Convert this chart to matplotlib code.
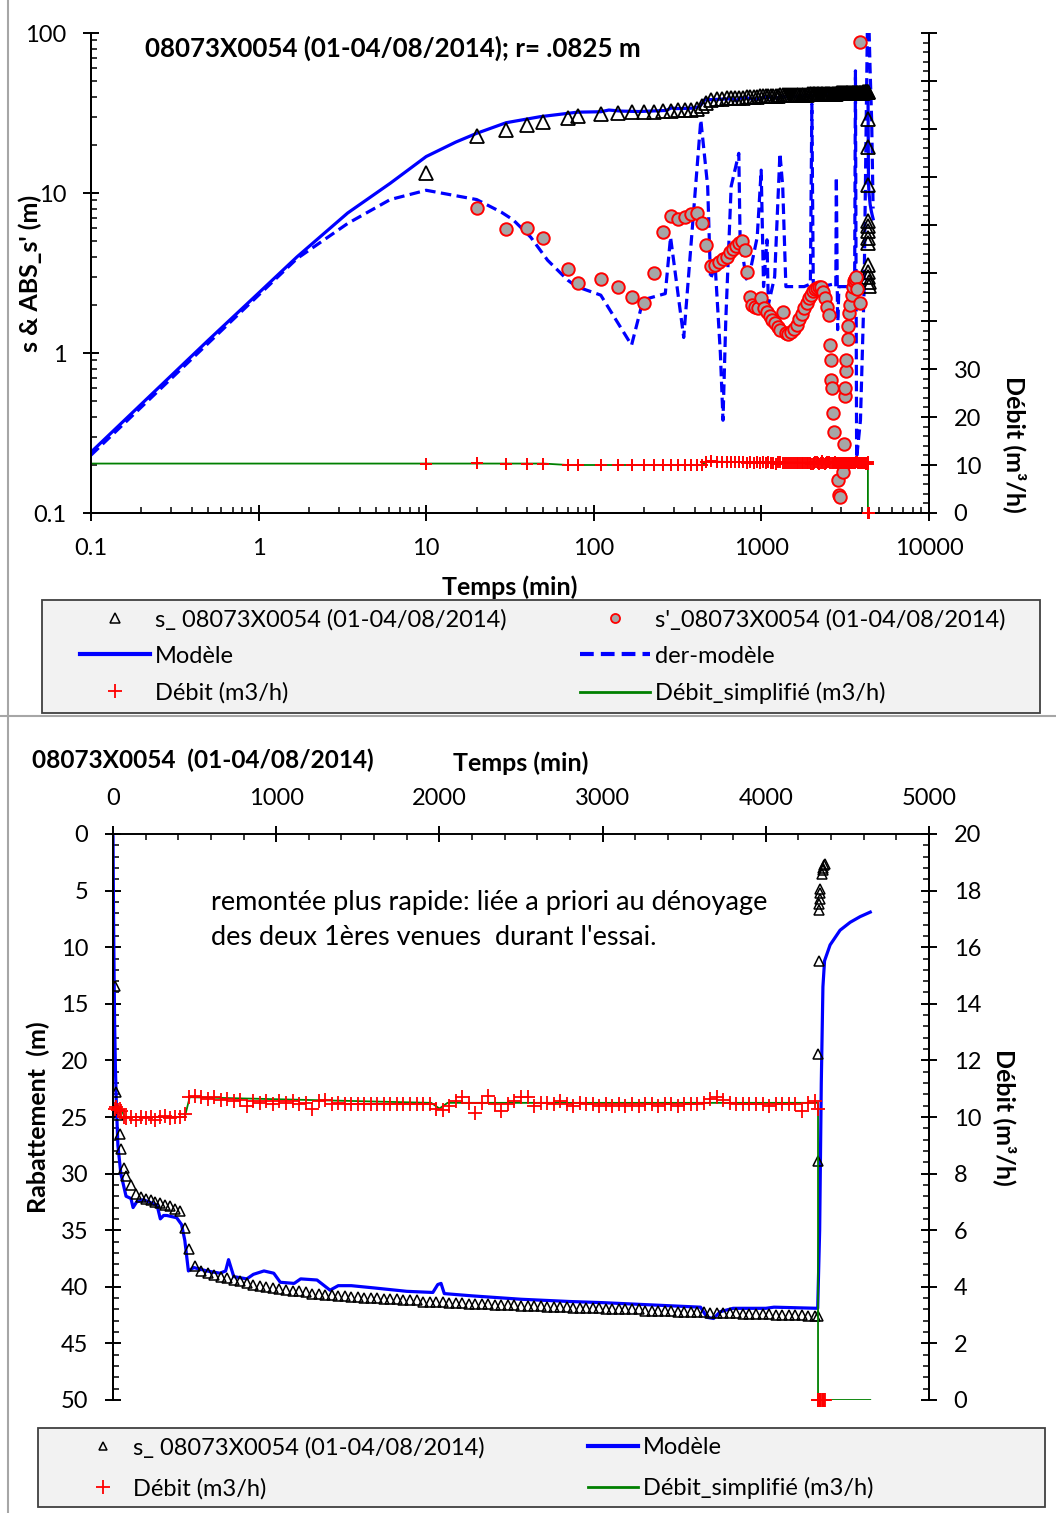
import matplotlib
matplotlib.use("Agg")
import matplotlib.pyplot as plt
from matplotlib.lines import Line2D
from matplotlib.patches import Rectangle
from matplotlib.ticker import (FixedLocator, FixedFormatter, MultipleLocator,
                               LogLocator, NullFormatter, FuncFormatter)

# ---------------- data ----------------
# pumping period: observed drawdown s (m) and flow Q (m3/h)
t_pump = [10, 20, 30, 40, 50, 70, 80, 110, 140, 170, 200, 230, 260, 290, 320, 350,
          380, 410, 440, 465,
          500, 540, 580, 620, 660, 700, 740, 780, 820, 860, 900, 940, 980, 1020,
          1060, 1100, 1140, 1180, 1220, 1260, 1300, 1340, 1380, 1420, 1460, 1500,
          1540, 1580, 1620, 1660, 1700, 1740, 1780, 1820, 1860, 1900, 1940, 1980,
          2020, 2060, 2100, 2140, 2180, 2220, 2260, 2300, 2340, 2380, 2420, 2460,
          2500, 2540, 2580, 2620, 2660, 2700, 2740, 2780, 2820, 2860, 2900, 2940,
          2980, 3020, 3060, 3100, 3140, 3180, 3220, 3260, 3300, 3340, 3380, 3420,
          3460, 3500, 3540, 3580, 3620, 3660, 3700, 3740, 3780, 3820, 3860, 3900,
          3940, 3980, 4020, 4060, 4100, 4140, 4180, 4220, 4260, 4300, 4320]
s_pump = [13.4, 22.8, 24.8, 26.5, 27.8, 29.5, 30.2, 31.0, 31.8, 32.1, 32.2, 32.3,
          32.5, 32.6, 32.8, 32.9, 33.1, 33.3, 34.8, 36.7,
          38.2, 38.6, 38.8, 39.0, 39.1, 39.2, 39.4, 39.5, 39.7, 39.8, 39.9, 40.0,
          40.1, 40.2, 40.3, 40.4, 40.4, 40.5, 40.6, 40.6, 40.7, 40.7, 40.8, 40.8,
          40.9, 40.9, 41.0, 41.0, 41.0, 41.1, 41.1, 41.1, 41.2, 41.2, 41.2, 41.3,
          41.3, 41.3, 41.3, 41.4, 41.4, 41.4, 41.5, 41.5, 41.5, 41.5, 41.6, 41.6,
          41.6, 41.6, 41.7, 41.7, 41.7, 41.7, 41.8, 41.8, 41.8, 41.8, 41.9, 41.9,
          41.9, 41.9, 41.9, 42.0, 42.0, 42.0, 42.0, 42.0, 42.0, 42.1, 42.1, 42.1,
          42.1, 42.1, 42.2, 42.2, 42.2, 42.2, 42.2, 42.3, 42.3, 42.3, 42.3, 42.3,
          42.4, 42.4, 42.4, 42.4, 42.4, 42.5, 42.5, 42.5, 42.5, 42.5, 42.6, 42.6,
          42.6]
q_pump = [10.3, 10.35, 10.25, 10.3, 10.2, 10.0, 9.95, 10.0, 9.9, 10.0, 9.95, 10.0,
          9.9, 10.0, 10.05, 9.95, 10.0, 10.0, 10.1, 10.7,
          10.75, 10.7, 10.65, 10.7, 10.6, 10.65, 10.55, 10.6, 10.4, 10.55, 10.5,
          10.55, 10.45, 10.55, 10.5, 10.55, 10.45, 10.5, 10.3, 10.55, 10.6, 10.45,
          10.5, 10.45, 10.45, 10.45, 10.45, 10.45, 10.45, 10.45, 10.45, 10.45,
          10.45, 10.45, 10.45, 10.45, 10.45, 10.3, 10.25, 10.4, 10.55, 10.7, 10.5,
          10.15, 10.5, 10.75, 10.45, 10.2, 10.45, 10.55, 10.7, 10.7, 10.4, 10.5,
          10.5, 10.45, 10.55, 10.45, 10.4, 10.5, 10.45, 10.45, 10.4, 10.45, 10.4,
          10.45, 10.4, 10.45, 10.4, 10.45, 10.45, 10.4, 10.45, 10.45, 10.4, 10.45,
          10.45, 10.45, 10.5, 10.65, 10.7, 10.6, 10.5, 10.45, 10.45, 10.45, 10.45,
          10.45, 10.4, 10.45, 10.45, 10.45, 10.45, 10.2, 10.5, 10.55, 10.3]

# recovery period
t_rec = [4321, 4322, 4324, 4327, 4329, 4331, 4333, 4335, 4343, 4348, 4353, 4358, 4363]
s_rec = [28.9, 19.4, 11.2, 6.7, 6.2, 5.75, 5.25, 4.9, 3.55, 3.2, 2.98, 2.78, 2.64]
q_rec = [0, 0, 0, 0, 0, 0, 0, 0, 0, 0, 0, 0, 0]

# observed derivative |s'|
t_deriv = [20, 30, 40, 50, 70, 80, 110, 140, 170, 200, 230, 260, 290, 320, 350, 380,
           410, 440, 465, 500, 530, 560, 590, 620, 650, 680, 710, 740, 770, 800,
           825, 850, 880, 920, 960, 1000, 1040, 1080, 1120, 1160, 1200, 1250, 1300,
           1350, 1400, 1450, 1500, 1560, 1620, 1680, 1740, 1800, 1860, 1920, 1980,
           2040, 2100, 2160, 2220, 2280, 2340, 2400, 2460, 2520, 2560, 2590, 2600,
           2640, 2670, 2700, 2850, 2890, 2950, 3080, 3090, 3150, 3160, 3200, 3210,
           3280, 3290, 3350, 3400, 3450, 3500, 3550, 3600, 3650, 3700, 3890, 3900]
s_deriv = [8.1, 5.96, 6.0, 5.2, 3.33, 2.75, 2.92, 2.6, 2.25, 2.05, 3.16, 5.7, 7.2,
           6.9, 7.1, 7.4, 7.5, 6.5, 4.7, 3.5, 3.55, 3.7, 3.85, 4.0, 4.25, 4.45, 4.65,
           4.85, 5.0, 4.4, 3.2, 2.25, 2.0, 1.95, 1.9, 2.2, 1.9, 1.8, 1.7, 1.6, 1.55,
           1.45, 1.4, 1.8, 1.33, 1.32, 1.36, 1.42, 1.5, 1.62, 1.75, 1.9, 2.05, 2.2,
           2.3, 2.45, 2.5, 2.55, 2.6, 2.58, 2.4, 2.2, 1.95, 1.73, 1.12, 0.91, 0.68,
           0.6, 0.42, 0.32, 0.16, 0.13, 0.125, 0.18, 0.27, 0.54, 0.6, 0.77, 0.91,
           1.22, 1.47, 1.79, 2.0, 2.3, 2.6, 2.8, 2.9, 3.0, 2.5, 88.0, 2.04]

# model drawdown
t_model = [0.1, 0.2, 0.5, 1, 1.7, 3.4, 6.1, 10, 15, 20, 30, 48, 80, 110, 123, 145,
           185, 270, 290, 310, 330, 390, 420, 440, 462, 495, 575, 655, 690, 708,
           740, 820, 860, 925, 985, 1025, 1110, 1150, 1250, 1330, 1380, 1460, 1600,
           1800, 1960, 1990, 2010, 2030, 2200, 2500, 2800, 3000, 3300, 3600, 3640,
           3680, 3720, 3800, 4000, 4050, 4318, 4330, 4340, 4350, 4360, 4394, 4455,
           4517, 4578, 4640]
s_model = [0.24, 0.48, 1.2, 2.37, 4.0, 7.5, 11.5, 16.9, 20.8, 23.6, 27.5, 30.0,
           32.0, 32.2, 33.0, 32.5, 32.3, 32.8, 34.0, 33.7, 33.7, 33.9, 34.5, 35.9,
           38.6, 38.3, 38.6, 38.8, 38.6, 37.6, 39.1, 39.3, 38.9, 38.6, 38.8, 39.6,
           39.7, 39.3, 39.4, 40.3, 39.9, 39.9, 40.1, 40.4, 40.5, 39.8, 39.7, 40.6,
           40.8, 41.1, 41.3, 41.4, 41.6, 41.8, 42.7, 42.8, 42.2, 41.9, 41.9, 41.8,
           41.9, 35.0, 22.0, 13.5, 11.2, 9.8, 8.5, 7.8, 7.3, 6.9]

# model derivative
t_dmodel = [0.1, 0.5, 1, 1.7, 3.4, 6.1, 10, 20, 28, 33, 42, 53, 70, 79, 110, 168,
            197, 267, 287, 344, 435, 478, 497, 530, 569, 590, 613, 660, 733, 746,
            812, 870, 944, 997, 1030, 1080, 1100, 1200, 1290, 1340, 1400, 1600, 1800,
            1960, 2000, 2040, 2300, 2700, 2780, 2800, 2850, 2900, 3300, 3600, 3640,
            3700, 3900, 4100, 4250, 4320, 4450, 4550, 4640]
s_dmodel = [0.23, 1.15, 2.3, 3.9, 6.45, 9.1, 10.4, 9.1, 7.6, 6.8, 5.3, 3.8, 2.85,
            2.6, 2.3, 1.12, 2.15, 2.35, 5.3, 1.25, 28.6, 11.0, 2.9, 3.5, 1.0, 0.38,
            1.6, 11.0, 17.7, 5.3, 2.9, 3.5, 5.3, 13.9, 2.6, 5.1, 2.0, 3.0, 17.7,
            11.0, 2.6, 2.6, 2.6, 2.7, 36.0, 2.6, 2.6, 2.7, 2.6, 12.6, 1.4, 2.6, 2.6,
            2.6, 58.0, 0.22, 0.38, 2.5, 50.0, 200.0, 60.0, 28.0, 8.0]

# simplified flow
t_qsimp = [0.1, 50, 70, 440, 470, 1950, 2000, 2050, 4320, 4320, 4640]
q_simp = [10.3, 10.3, 10.0, 10.0, 10.7, 10.5, 10.3, 10.5, 10.5, 0, 0]

x_log_ticks = [0.1, 1, 10, 100, 1000, 10000]
x_log_labels = ["0.1", "1", "10", "100", "1000", "10000"]
y_log_ticks = [0.1, 1, 10, 100]
y_log_labels = ["0.1", "1", "10", "100"]

title_top = "08073X0054 (01-04/08/2014); r= .0825 m"
title_bottom = "08073X0054  (01-04/08/2014)"
note = "remontée plus rapide: liée a priori au dénoyage\ndes deux 1ères venues  durant l'essai."
lbl_s = "s_ 08073X0054 (01-04/08/2014)"
lbl_d = "s'_08073X0054 (01-04/08/2014)"
lbl_m = "Modèle"
lbl_dm = "der-modèle"
lbl_q = "Débit (m3/h)"
lbl_qs = "Débit_simplifié (m3/h)"

t_obs = t_pump + t_rec
s_obs = s_pump + s_rec
q_obs = q_pump + q_rec

# ---------------- style ----------------
plt.rcParams['font.family'] = ['Lato', 'DejaVu Sans']
W, H = 1056, 1513
FS = 17
BLUE = '#0000ff'
GREEN = '#008000'
RED = '#ff0000'


def fx(px):
    return px / W


def fy(py):
    return 1 - py / H


fig = plt.figure(figsize=(W / 100, H / 100), dpi=100)
fig.patch.set_facecolor('white')

# panel separators
fig.add_artist(Line2D([fx(8), fx(8)], [0, 1], transform=fig.transFigure,
                      color='#a6a6a6', lw=1.5))
fig.add_artist(Line2D([0, 1], [fy(716), fy(716)], transform=fig.transFigure,
                      color='#a6a6a6', lw=1.5))


def style_major_minor(ax, axis):
    ax.tick_params(axis=axis, which='major', direction='inout', length=11.5,
                   width=1.4, labelsize=FS, pad=12, colors='black')
    ax.tick_params(axis=axis, which='minor', direction='in', length=4.5,
                   width=1.1)


# ================= TOP CHART (log-log) =================
ax1 = fig.add_axes([fx(91), fy(513), fx(929) - fx(91), fy(33) - fy(513)])
ax1.set_xscale('log')
ax1.set_yscale('log')
ax1.set_xlim(0.1, 10000)
ax1.set_ylim(0.1, 100)
ax1r = ax1.twinx()
ax1r.set_ylim(0, 100)

ax1.plot(t_model, s_model, color=BLUE, lw=2.3, zorder=2)
dl, = ax1.plot(t_dmodel, s_dmodel, color=BLUE, lw=2.3, zorder=2)
dl.set_dashes([3.3, 1.7])
ax1.plot(t_obs, s_obs, ls='none', marker='^', ms=9.5, mfc='none', mec='black',
         mew=1.3, zorder=3)
ax1.plot(t_deriv, s_deriv, ls='none', marker='o', ms=9, mfc='#a6a6a6', mec=RED,
         mew=1.4, zorder=3)
ax1r.plot(t_qsimp, q_simp, color=GREEN, lw=1.3, zorder=2)
ax1r.plot(t_obs, q_obs, ls='none', marker='+', ms=8.5, mec=RED, mew=1.4,
          zorder=3, clip_on=False)

for a in (ax1, ax1r):
    a.spines['top'].set_visible(False)
    for s in a.spines.values():
        s.set_linewidth(1.4)

ax1.xaxis.set_major_locator(FixedLocator(x_log_ticks))
ax1.xaxis.set_major_formatter(FixedFormatter(x_log_labels))
ax1.xaxis.set_minor_locator(LogLocator(base=10, subs=range(2, 10), numticks=100))
ax1.xaxis.set_minor_formatter(NullFormatter())
ax1.yaxis.set_major_locator(FixedLocator(y_log_ticks))
ax1.yaxis.set_major_formatter(FixedFormatter(y_log_labels))
ax1.yaxis.set_minor_locator(LogLocator(base=10, subs=range(2, 10), numticks=100))
ax1.yaxis.set_minor_formatter(NullFormatter())
ax1r.yaxis.set_major_locator(MultipleLocator(10))
ax1r.yaxis.set_major_formatter(FuncFormatter(lambda v, p: f"{int(round(v))}" if v <= 30.5 else ""))
ax1r.yaxis.set_minor_locator(MultipleLocator(2))
style_major_minor(ax1, 'x')
style_major_minor(ax1, 'y')
style_major_minor(ax1r, 'y')

ax1.set_xlabel("Temps (min)", fontsize=18, fontweight='bold')
ax1.xaxis.label.set_va('center')
ax1.xaxis.set_label_coords(0.5, -0.154)
ax1.set_ylabel("s & ABS_s' (m)", fontsize=18, fontweight='bold')
ax1.yaxis.label.set_va('center')
ax1.yaxis.set_label_coords(-0.0728, 0.5)
ax1r.set_ylabel("Débit (m³/h)", fontsize=18, fontweight='bold', rotation=270)
ax1r.yaxis.label.set_va('center')
ax1r.yaxis.set_label_coords(1.1026, 0.144)
ax1.text(0.0644, 0.969, title_top, transform=ax1.transAxes, fontsize=18.6,
         fontweight='bold', ha='left', va='center')

# top legend
fig.add_artist(Rectangle((fx(42), fy(713)), fx(1040) - fx(42), fy(600) - fy(713),
                         transform=fig.transFigure, fc='#f2f2f2', ec='#404040',
                         lw=1.3, zorder=0))
h_s = Line2D([], [], ls='none', marker='^', ms=7, mfc='none', mec='black', mew=1.1)
h_m = Line2D([], [], color=BLUE, lw=3)
h_q = Line2D([], [], ls='none', marker='+', ms=10, mec=RED, mew=1.3)
h_d = Line2D([], [], ls='none', marker='o', ms=6.5, mfc='#a6a6a6', mec=RED, mew=1.3)
h_dm = Line2D([], [], color=BLUE, lw=3, dashes=[3.3, 1.7])
h_qs = Line2D([], [], color=GREEN, lw=2)
leg_kw = dict(loc='upper left', frameon=False, borderpad=0, borderaxespad=0,
              fontsize=FS, handletextpad=0.22)
fig.legend([h_s, h_m, h_q], [lbl_s, lbl_m, lbl_q], bbox_to_anchor=(fx(80), fy(609)),
           handlelength=2.97, labelspacing=0.64, **leg_kw)
fig.legend([h_d, h_dm, h_qs], [lbl_d, lbl_dm, lbl_qs], bbox_to_anchor=(fx(580), fy(609)),
           handlelength=2.97, labelspacing=0.64, **leg_kw)

# ================= BOTTOM CHART (linear) =================
ax2 = fig.add_axes([fx(113), fy(1400), fx(929) - fx(113), fy(834) - fy(1400)])
ax2.set_xlim(0, 5000)
ax2.set_ylim(50, 0)
ax2r = ax2.twinx()
ax2r.set_ylim(0, 20)

ax2.plot(t_model, s_model, color=BLUE, lw=2.3, zorder=2)
ax2.plot(t_obs, s_obs, ls='none', marker='^', ms=6.5, mfc='none', mec='black',
         mew=1.1, zorder=3)
ax2r.plot(t_qsimp, q_simp, color=GREEN, lw=1.3, zorder=2)
ax2r.plot(t_obs, q_obs, ls='none', marker='+', ms=9.5, mec=RED, mew=1.3,
          zorder=3, clip_on=False)

for a in (ax2, ax2r):
    a.spines['bottom'].set_visible(False)
    for s in a.spines.values():
        s.set_linewidth(1.4)
ax2r.spines['top'].set_visible(False)

ax2.xaxis.tick_top()
ax2.xaxis.set_label_position('top')
ax2.xaxis.set_major_locator(MultipleLocator(1000))
ax2.xaxis.set_minor_locator(MultipleLocator(200))
ax2.yaxis.set_major_locator(MultipleLocator(5))
ax2.yaxis.set_minor_locator(MultipleLocator(1))
ax2r.yaxis.set_major_locator(MultipleLocator(2))
ax2r.yaxis.set_minor_locator(MultipleLocator(0.4))
style_major_minor(ax2, 'x')
style_major_minor(ax2, 'y')
style_major_minor(ax2r, 'y')
ax2.tick_params(axis='x', which='both', top=True, bottom=False, labeltop=True,
                labelbottom=False)

ax2.set_xlabel("Temps (min)", fontsize=18, fontweight='bold')
ax2.xaxis.label.set_va('center')
ax2.xaxis.set_label_coords(0.5, 1.1254)
ax2.set_ylabel("Rabattement  (m)", fontsize=18, fontweight='bold')
ax2.yaxis.label.set_va('center')
ax2.yaxis.set_label_coords(-0.092, 0.5)
ax2r.set_ylabel("Débit (m³/h)", fontsize=18, fontweight='bold', rotation=270)
ax2r.yaxis.label.set_va('center')
ax2r.yaxis.set_label_coords(1.093, 0.5)
fig.text(fx(32), fy(760), title_bottom, fontsize=17.6, fontweight='bold',
         ha='left', va='center')
ax2.text(600, 7.6, note, fontsize=19.5, ha='left', va='center', linespacing=1.52)

# bottom legend
fig.add_artist(Rectangle((fx(38), fy(1507)), fx(1045) - fx(38), fy(1428) - fy(1507),
                         transform=fig.transFigure, fc='#f2f2f2', ec='#404040',
                         lw=1.3, zorder=0))
h_s2 = Line2D([], [], ls='none', marker='^', ms=5.5, mfc='none', mec='black', mew=1.1)
fig.legend([h_s2, h_q], [lbl_s, lbl_q], bbox_to_anchor=(fx(78), fy(1437)),
           handlelength=2.12, labelspacing=0.82, **leg_kw)
fig.legend([h_m, h_qs], [lbl_m, lbl_qs], bbox_to_anchor=(fx(588), fy(1437)),
           handlelength=2.12, labelspacing=0.82, **leg_kw)

fig.savefig("out.png", dpi=100)
